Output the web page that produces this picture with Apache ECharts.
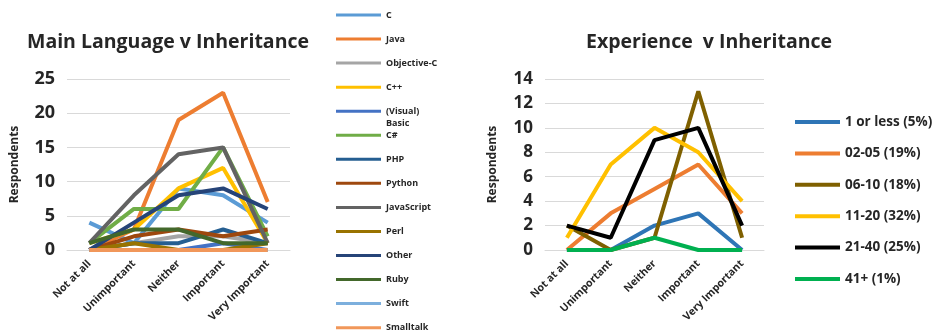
<!DOCTYPE html>
<html>
<head>
<meta charset="utf-8">
<script src="https://cdn.jsdelivr.net/npm/echarts@6/dist/echarts.min.js"></script>
<style>
  html, body { margin: 0; padding: 0; background: #fff; }
  #main { width: 934px; height: 331px; }
</style>
</head>
<body>
<div id="main"></div>
<script>
// categories shared by both charts
var categories = ['Not at all', 'Unimportant', 'Neither', 'Important', 'Very Important'];

// left chart: main language
var langNames = ['C', 'Java', 'Objective-C', 'C++', '(Visual) Basic', 'C#', 'PHP', 'Python',
                 'JavaScript', 'Perl', 'Other', 'Ruby', 'Swift', 'Smalltalk'];
var langColors = ['#5B9BD5', '#ED7D31', '#A5A5A5', '#FFC000', '#4472C4', '#70AD47', '#255E91',
                  '#9E480E', '#636363', '#997300', '#264478', '#43682B', '#7CAFDD', '#F1975A'];
var langC          = [4, 1, 9, 8, 4];
var langJava       = [0, 3, 19, 23, 7];
var langObjC       = [0, 1, 2, 2, 1];
var langCpp        = [1, 3, 9, 12, 1];
var langBasic      = [0, 0, 0, 1, 0];
var langCsharp     = [1, 6, 6, 15, 2];
var langPHP        = [0, 1, 1, 3, 1];
var langPython     = [0, 2, 3, 2, 3];
var langJS         = [1, 8, 14, 15, 1];
var langPerl       = [0, 1, 0, 0, 1];
var langOther      = [0, 4, 8, 9, 6];
var langRuby       = [1, 3, 3, 1, 1];
var langSwift      = [0, 0, 0, 0, 0];
var langSmalltalk  = [0, 0, 0, 0, 0];
var langValues = [langC, langJava, langObjC, langCpp, langBasic, langCsharp, langPHP, langPython,
                  langJS, langPerl, langOther, langRuby, langSwift, langSmalltalk];

// right chart: experience
var expNames = ['1 or less (5%)', '02-05 (19%)', '06-10 (18%)', '11-20 (32%)', '21-40 (25%)', '41+ (1%)'];
var expColors = ['#2E75B6', '#ED7D31', '#7F6000', '#FFC000', '#000000', '#00B050'];
var exp1    = [0, 0, 2, 3, 0];
var exp2    = [0, 3, 5, 7, 3];
var exp6    = [2, 0, 1, 13, 1];
var exp11   = [1, 7, 10, 8, 4];
var exp21   = [2, 1, 9, 10, 2];
var exp41   = [0, 0, 1, 0, 0];
var expValues = [exp1, exp2, exp6, exp11, exp21, exp41];

var leftTicks = [0, 5, 10, 15, 20, 25];
var rightTicks = [0, 2, 4, 6, 8, 10, 12, 14];

var FONT = 'Open Sans';
var TXT = '#262626';

var myChart = echarts.init(document.getElementById('main'));

var series = [];
langNames.forEach(function (n, i) {
    series.push({
        name: n, type: 'line', xAxisIndex: 0, yAxisIndex: 0,
        data: langValues[i], symbol: 'none', color: langColors[i],
        lineStyle: { width: 4, color: langColors[i] }
    });
});
expNames.forEach(function (n, i) {
    series.push({
        name: n, type: 'line', xAxisIndex: 1, yAxisIndex: 1,
        data: expValues[i], symbol: 'none', color: expColors[i],
        lineStyle: { width: 4, color: expColors[i] }
    });
});

// one legend per entry so the spacing matches
var legends = [];
langNames.forEach(function (n, i) {
    var basic = n === '(Visual) Basic';
    var cy = 15 + i * 24.05;
    legends.push({
        data: [n], left: 336, top: basic ? cy - 18 : cy - 6, padding: 0,
        itemWidth: 45, itemHeight: 3, icon: 'rect', selectedMode: false,
        formatter: basic ? '\n(Visual)\nBasic' : '{name}',
        textStyle: { fontFamily: FONT, fontWeight: 'bold', fontSize: 9, color: TXT, lineHeight: 12 },
        itemGap: 3
    });
});
expNames.forEach(function (n, i) {
    legends.push({
        data: [n], left: 795, top: 122 - 8 + i * 31.4, padding: 0,
        itemWidth: 45, itemHeight: 4, icon: 'rect', selectedMode: false,
        textStyle: { fontFamily: FONT, fontWeight: 'bold', fontSize: 13.5, color: TXT, lineHeight: 16 },
        itemGap: 3
    });
});

function xAx(gi) {
    return {
        type: 'category', gridIndex: gi, data: categories,
        axisLine: { lineStyle: { color: '#D9D9D9' } },
        axisTick: { show: false },
        axisLabel: { rotate: 45, margin: 12, fontFamily: FONT, fontWeight: 'bold',
                     fontSize: 10.5, color: TXT, interval: 0 }
    };
}
function yAx(gi, ticks, fs, gap) {
    return {
        type: 'value', gridIndex: gi, min: ticks[0], max: ticks[ticks.length - 1],
        interval: ticks[1] - ticks[0],
        name: 'Respondents', nameLocation: 'middle', nameGap: gap,
        nameTextStyle: { fontFamily: FONT, fontWeight: 'bold', fontSize: 12, color: TXT },
        axisLine: { show: false }, axisTick: { show: false },
        splitLine: { lineStyle: { color: '#D9D9D9' } },
        axisLabel: { fontFamily: FONT, fontWeight: 'bold', fontSize: fs, color: TXT, margin: 12 }
    };
}

var option = {
    animation: false,
    title: [
        { text: 'Main Language v Inheritance', left: 163, top: 27, textAlign: 'center',
          textStyle: { fontFamily: FONT, fontWeight: 'bold', fontSize: 19.5, color: TXT } },
        { text: 'Experience  v Inheritance', left: 704, top: 27, textAlign: 'center',
          textStyle: { fontFamily: FONT, fontWeight: 'bold', fontSize: 19.5, color: TXT } }
    ],
    legend: legends,
    grid: [
        { left: 67, right: 644, top: 79, bottom: 81 },
        { left: 545, right: 170, top: 79, bottom: 81 }
    ],
    xAxis: [xAx(0), xAx(1)],
    yAxis: [yAx(0, leftTicks, 18, 46), yAx(1, rightTicks, 17, 46)],
    series: series
};
myChart.setOption(option);
window.addEventListener('resize', function () { myChart.resize(); });
</script>
</body>
</html>
